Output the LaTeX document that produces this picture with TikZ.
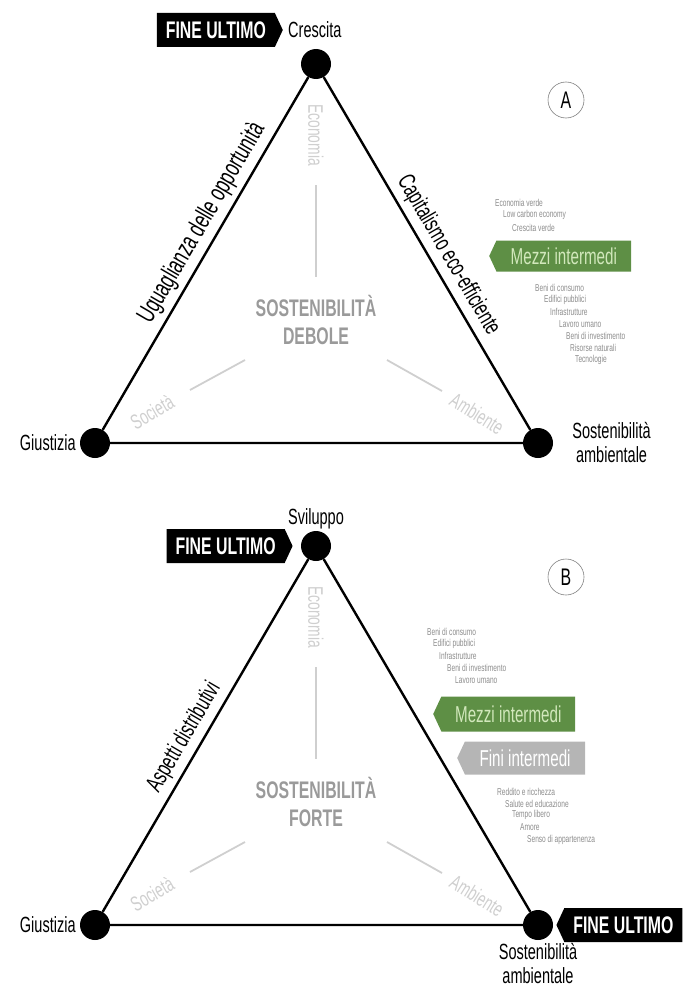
\documentclass[tikz,border=0pt]{standalone}
\usepackage{fontspec}
\setmainfont{Liberation Sans}
\newfontfamily\cond[FakeStretch=0.66]{Liberation Sans}
\usepackage{tikz}
\usetikzlibrary{shapes.symbols,positioning}
\definecolor{verde}{HTML}{5E8F45}
\definecolor{verdechiaro}{HTML}{D2E8BC}
\definecolor{grigiobox}{HTML}{B5B5B5}
\definecolor{grigioasse}{HTML}{CFCFCF}
\definecolor{grigiotesto}{HTML}{9A9A9A}
\definecolor{grigiolista}{HTML}{8C8C8C}
\tikzstyle{vertice} = [circle,fill=black,minimum size=30pt,inner sep=0pt]
\tikzstyle{lato} = [line width=2.4pt]
\tikzstyle{asse} = [line width=1.8pt,grigioasse]
\tikzstyle{asse testo} = [text=grigioasse,font=\cond\fontsize{21}{21}\selectfont,inner sep=1pt]
\tikzstyle{centro} = [text=grigiotesto,align=center,font=\cond\bfseries\fontsize{24}{28}\selectfont]
\tikzstyle{etichetta} = [font=\cond\fontsize{22}{24}\selectfont,inner sep=1pt]
\tikzstyle{etichetta lato} = [font=\cond\fontsize{24}{24}\selectfont,inner sep=1pt]
\tikzstyle{badge} = [signal,signal pointer angle=130,fill=black,text=white,
  font=\cond\bfseries\fontsize{24}{24}\selectfont,minimum height=34pt,inner xsep=9pt]
\tikzstyle{mezzi} = [signal,signal to=west,signal pointer angle=130,fill=verde,text=verdechiaro,
  font=\cond\fontsize{23}{23}\selectfont,minimum height=31pt,minimum width=142pt,anchor=west]
\tikzstyle{fini} = [mezzi,fill=grigiobox,text=white,minimum width=128pt]
\tikzstyle{lista} = [anchor=west,text=grigiolista,font=\cond\fontsize{10}{10}\selectfont,inner sep=0pt]
\tikzstyle{cerchio} = [circle,draw=gray,line width=0.6pt,minimum size=36pt,inner sep=0pt,
  font=\cond\fontsize{24}{24}\selectfont]
% one triangle: #1 name, #2 vertical shift, #3 second word of the centre
\newcommand{\triangolo}[3]{
 \begin{scope}[yshift=#2]
  \node[vertice] (#1top) at (316,-64) {};
  \node[vertice] (#1sx) at (95,-443) {};
  \node[vertice] (#1dx) at (538,-443) {};
  \draw[lato] (#1top) -- (#1sx) -- (#1dx) -- (#1top);
  \node[asse testo,rotate=-90] (#1eco) at (316,-135) {Economia};
  \coordinate (#1e1) at (316,-185); \coordinate (#1e2) at (316,-277);
  \draw[asse] (#1e1) -- (#1e2);
  \node[centro] (#1centro) at (316,-320) {SOSTENIBILITÀ\\#3};
  \coordinate (#1s1) at (190,-390); \coordinate (#1s2) at (245,-360);
  \draw[asse] (#1s1) -- (#1s2);
  \node[asse testo,rotate=30] (#1soc) at (152,-412) {Società};
  \coordinate (#1a1) at (387,-360); \coordinate (#1a2) at (442,-391);
  \draw[asse] (#1a1) -- (#1a2);
  \node[asse testo,rotate=-32] (#1amb) at (477,-414) {Ambiente};
  \node[etichetta,left=3pt of #1sx] (#1giu) {Giustizia};
 \end{scope}
}

\begin{document}
\begin{tikzpicture}[x=1pt,y=1pt]
  \useasboundingbox (0,0) rectangle (683,-998);
  \triangolo{A}{0}{DEBOLE}
  \triangolo{B}{-482}{FORTE}

  % A: crescita
  \node[etichetta,anchor=west] (Acresc) at (287,-30) {Crescita};
  \node[badge,signal to=east,left=4pt of Acresc] (Afine) {FINE ULTIMO};
  \node[etichetta,align=center,right=18pt of Adx] (Asost) {Sostenibilità\\ambientale};
  \node[cerchio] (Acerchio) at (566,-100) {A};
  \path (Asx) -- (Atop) node[etichetta lato,font=\cond\fontsize{26}{26}\selectfont,pos=0.56,sloped,above=5pt] (Auguag) {Uguaglianza delle opportunità};
  \path (Atop) -- (Adx) node[etichetta lato,pos=0.53,sloped,above=5pt] (Acapit) {Capitalismo eco-efficiente};

  \node[lista] (Al1) at (495,-203) {Economia verde};
  \node[lista] (Al2) at (503,-215) {Low carbon economy};
  \node[lista] (Al3) at (512,-228) {Crescita verde};
  \node[mezzi] (Amezzi) at (489,-256) {Mezzi intermedi};
  \node[lista] (Al4) at (535,-288) {Beni di consumo};
  \node[lista] (Al5) at (544,-300) {Edifici pubblici};
  \node[lista] (Al6) at (550,-312) {Infrastrutture};
  \node[lista] (Al7) at (559,-324) {Lavoro umano};
  \node[lista] (Al8) at (566,-336) {Beni di investimento};
  \node[lista] (Al9) at (570,-348) {Risorse naturali};
  \node[lista] (Al10) at (575,-360) {Tecnologie};

  % B: sviluppo
  \node[etichetta,above=1pt of Btop] (Bsvil) {Sviluppo};
  \node[badge,signal to=east,left=8pt of Btop] (Bfine) {FINE ULTIMO};
  \node[badge,signal to=west,right=3pt of Bdx] (Bfine2) {FINE ULTIMO};
  \node[etichetta,align=center,below=2pt of Bdx] (Bsost) {Sostenibilità\\ambientale};
  \node[cerchio] (Bcerchio) at (566,-577) {B};
  \path (Bsx) -- (Btop) node[etichetta lato,pos=0.47,sloped,above=5pt] (Baspetti) {Aspetti distributivi};

  \node[lista] (Bl1) at (427,-632) {Beni di consumo};
  \node[lista] (Bl2) at (433,-644) {Edifici pubblici};
  \node[lista] (Bl3) at (439,-656) {Infrastrutture};
  \node[lista] (Bl4) at (447,-668) {Beni di investimento};
  \node[lista] (Bl5) at (455,-680) {Lavoro umano};
  \node[mezzi,minimum height=35pt] (Bmezzi) at (433,-714) {Mezzi intermedi};
  \node[fini,minimum height=33pt] (Bfini) at (457,-758) {Fini intermedi};
  \node[lista] (Bl6) at (497,-792) {Reddito e ricchezza};
  \node[lista] (Bl7) at (505,-804) {Salute ed educazione};
  \node[lista] (Bl8) at (512,-815) {Tempo libero};
  \node[lista] (Bl9) at (520,-827) {Amore};
  \node[lista] (Bl10) at (527,-840) {Senso di appartenenza};
\end{tikzpicture}
\end{document}
